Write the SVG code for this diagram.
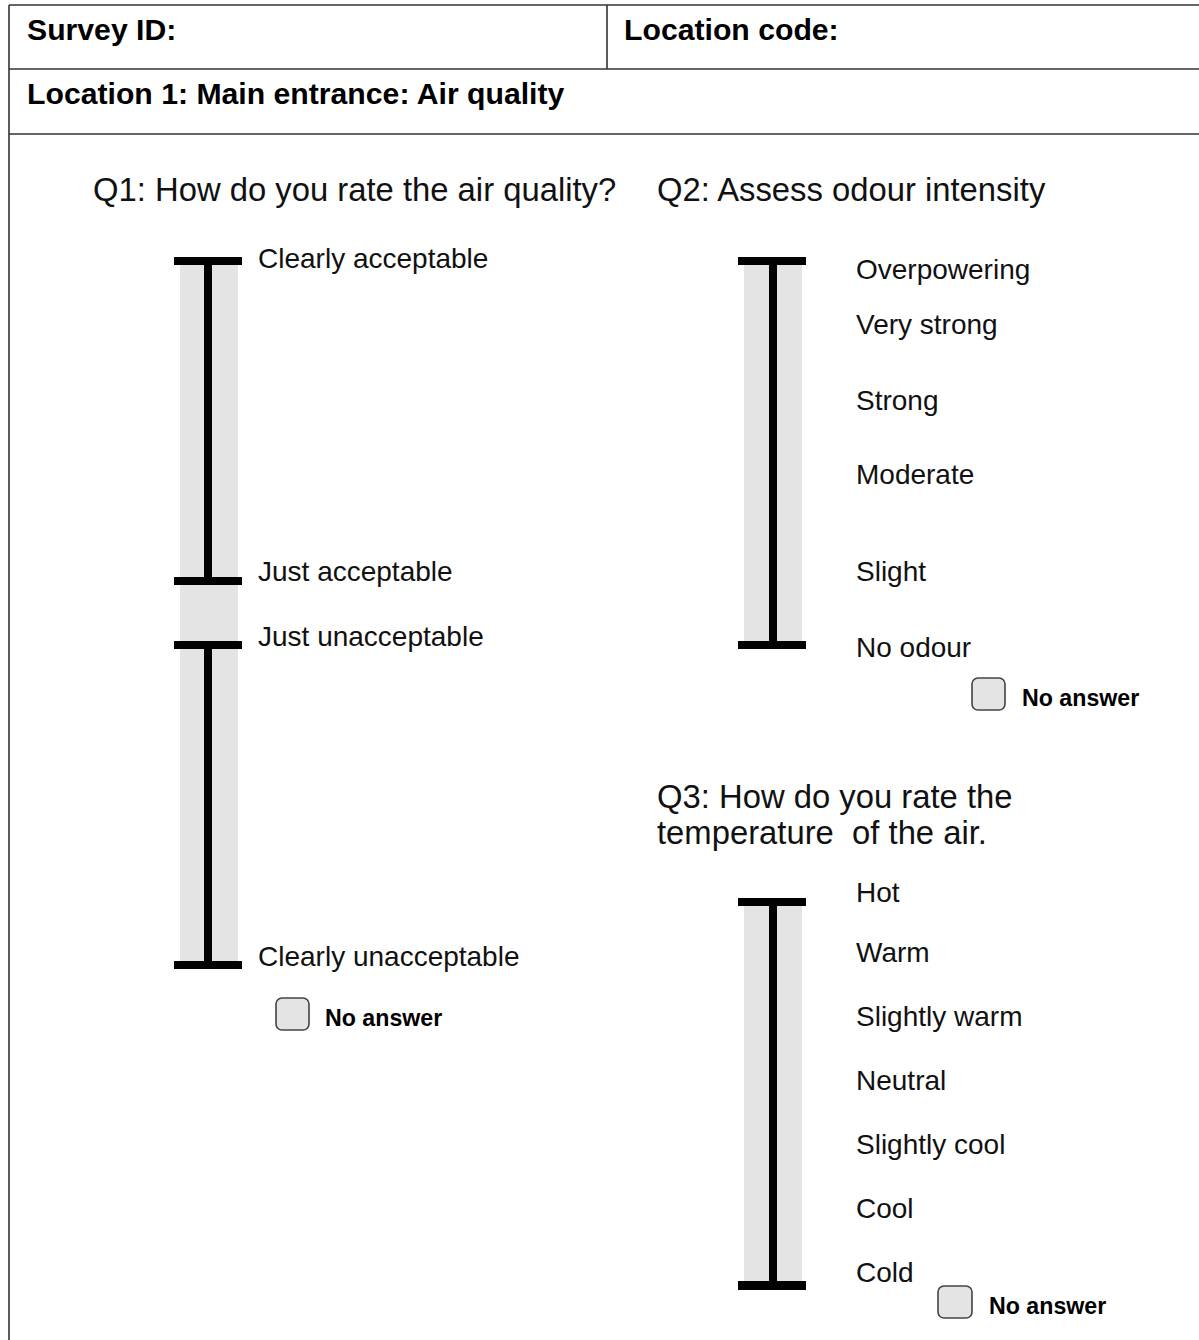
<svg xmlns="http://www.w3.org/2000/svg" width="1199" height="1340" viewBox="0 0 1199 1340">
<style>
.frame{stroke:#333;stroke-width:1.6;fill:none}
.hdr{font-family:"Liberation Sans",Arial,sans-serif;font-weight:bold;font-size:30.2px;fill:#000}
.q{font-family:"Liberation Sans",Arial,sans-serif;font-size:32.8px;fill:#111}
.lbl{font-family:"Liberation Sans",Arial,sans-serif;font-size:28px;fill:#111}
.na{font-family:"Liberation Sans",Arial,sans-serif;font-weight:bold;font-size:23.2px;fill:#000}
.track{fill:#e4e4e4}
.bar{fill:#000}
.box{fill:#e4e4e4;stroke:#444;stroke-width:1.6}
</style>
<rect width="1199" height="1340" fill="#fff"/>
<g id="frame">
<line class="frame" x1="9" y1="5" x2="1199" y2="5"/>
<line class="frame" x1="9" y1="5" x2="9" y2="1340"/>
<line class="frame" x1="9" y1="69" x2="1199" y2="69"/>
<line class="frame" x1="9" y1="134" x2="1199" y2="134"/>
<line class="frame" x1="607" y1="5" x2="607" y2="69"/>
<text class="hdr" x="27" y="40">Survey ID:</text>
<text class="hdr" x="624" y="40">Location code:</text>
<text class="hdr" x="27" y="104">Location 1: Main entrance: Air quality</text>
</g>
<g id="q1">
<text class="q" x="93" y="201">Q1: How do you rate the air quality?</text>
<rect class="track" x="180" y="261" width="58" height="704"/>
<rect class="bar" x="204" y="261" width="8" height="320"/>
<rect class="bar" x="204" y="645" width="8" height="320"/>
<rect class="bar" x="174" y="257" width="68" height="8"/>
<rect class="bar" x="174" y="577" width="68" height="8"/>
<rect class="bar" x="174" y="641" width="68" height="8"/>
<rect class="bar" x="174" y="961" width="68" height="8"/>
<text class="lbl" x="258" y="268">Clearly acceptable</text>
<text class="lbl" x="258" y="581">Just acceptable</text>
<text class="lbl" x="258" y="646">Just unacceptable</text>
<text class="lbl" x="258" y="966">Clearly unacceptable</text>
<rect class="box" x="276" y="998" width="33" height="32" rx="6"/>
<text class="na" x="325" y="1026">No answer</text>
</g>
<g id="q2">
<text class="q" x="657" y="201">Q2: Assess odour intensity</text>
<rect class="track" x="744" y="261" width="58" height="384"/>
<rect class="bar" x="769" y="261" width="8" height="384"/>
<rect class="bar" x="738" y="257" width="68" height="8"/>
<rect class="bar" x="738" y="641" width="68" height="8"/>
<text class="lbl" x="856" y="279">Overpowering</text>
<text class="lbl" x="856" y="334">Very strong</text>
<text class="lbl" x="856" y="410">Strong</text>
<text class="lbl" x="856" y="484">Moderate</text>
<text class="lbl" x="856" y="581">Slight</text>
<text class="lbl" x="856" y="657">No odour</text>
<rect class="box" x="972" y="678" width="33" height="32" rx="6"/>
<text class="na" x="1022" y="706">No answer</text>
</g>
<g id="q3">
<text class="q" x="657" y="808">Q3: How do you rate the</text>
<text class="q" x="657" y="844" xml:space="preserve">temperature  of the air.</text>
<rect class="track" x="744" y="902" width="58" height="384"/>
<rect class="bar" x="769" y="902" width="8" height="384"/>
<rect class="bar" x="738" y="898" width="68" height="8"/>
<rect class="bar" x="738" y="1281" width="68" height="9"/>
<text class="lbl" x="856" y="902">Hot</text>
<text class="lbl" x="856" y="962">Warm</text>
<text class="lbl" x="856" y="1026">Slightly warm</text>
<text class="lbl" x="856" y="1090">Neutral</text>
<text class="lbl" x="856" y="1154">Slightly cool</text>
<text class="lbl" x="856" y="1218">Cool</text>
<text class="lbl" x="856" y="1282">Cold</text>
<rect class="box" x="938" y="1286" width="34" height="32" rx="6"/>
<text class="na" x="989" y="1314">No answer</text>
</g>
<g id="connectors"/>
</svg>
